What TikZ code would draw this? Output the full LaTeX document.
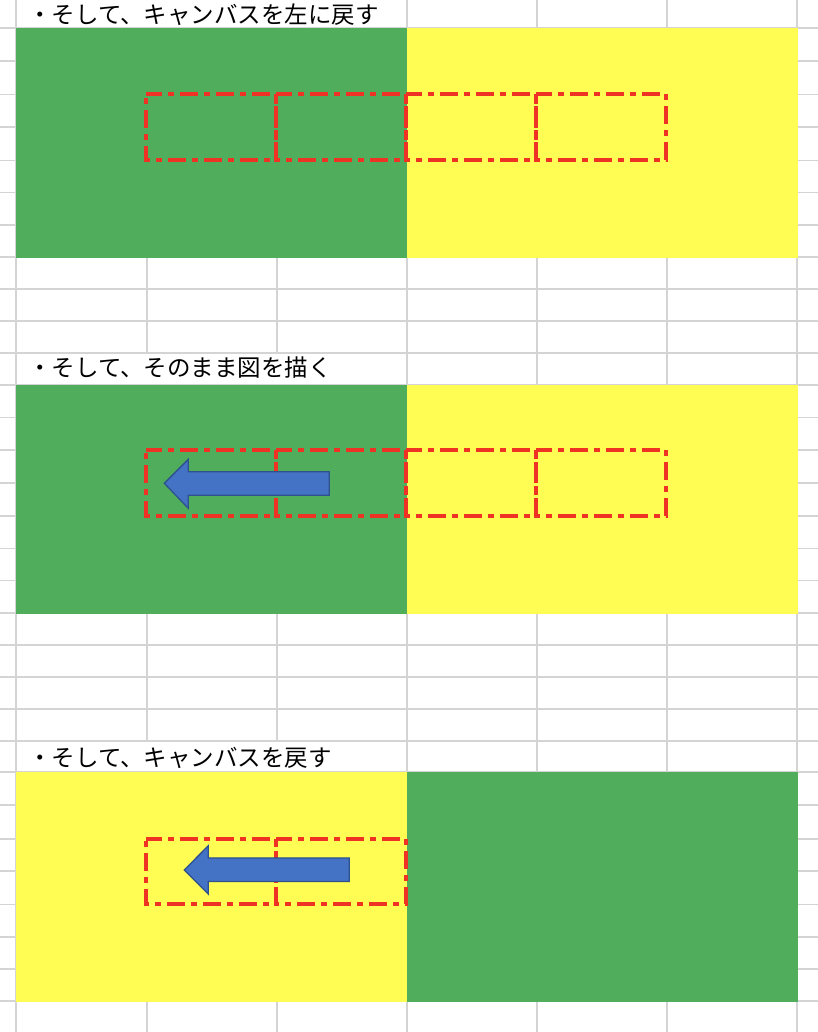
\documentclass[tikz,border=0pt]{standalone}
\usepackage{fontspec}
\newfontfamily\jpfont{Noto Sans CJK JP}
\definecolor{gridgray}{RGB}{212,212,212}
\definecolor{cellgreen}{RGB}{79,173,91}
\definecolor{cellyellow}{RGB}{255,253,84}
\definecolor{boxred}{RGB}{238,50,36}
\definecolor{arrowblue}{RGB}{68,114,196}
\definecolor{arrowedge}{RGB}{47,82,143}
\begin{document}
\begin{tikzpicture}[x=1bp,y=-1bp,
  gridline/.style={draw=gridgray,line width=1.3bp},
  whitecell/.style={fill=white,draw=none},
  greencell/.style={fill=cellgreen,draw=none},
  yellowcell/.style={fill=cellyellow,draw=none},
  redbox/.style={draw=boxred,line width=4.2bp,dash pattern=on 18bp off 6bp on 6bp off 6bp,dash phase=2bp},
  bluearrow/.style={fill=arrowblue,draw=arrowedge,line width=1.3bp,line join=miter},
  caption/.style={anchor=base west,inner sep=0pt,font=\jpfont\fontsize{23.5bp}{28bp}\selectfont}]
\useasboundingbox[fill=white] (0,0) rectangle (818,1032);
% grid
\foreach \y in {-4.5,28,61,94.5,127,160.5,192.5,225,257,289,321,353,385,417.5,450,483,516,548.5,580.5,613,645,677,709,741,772,805,839,871,904.5,937,969,1001}
  \draw[gridline] (0,\y) -- (818,\y);
\foreach \x in {16,147,277,407,537,667,797}
  \draw[gridline] (\x,0) -- (\x,1032);
% text rows (overflowing text hides inner gridlines)
\fill[whitecell] (16.7,-4) rectangle (406.3,27.3);
\fill[whitecell] (16.7,353.7) rectangle (406.3,384.3);
\fill[whitecell] (16.7,741.7) rectangle (406.3,771.3);
% block 1
\fill[greencell] (15.5,27.5) rectangle (407,257.5);
\fill[yellowcell] (407,27.5) rectangle (797.5,257.5);
% block 2
\fill[greencell] (15.5,384.5) rectangle (407,613.5);
\fill[yellowcell] (407,384.5) rectangle (797.5,613.5);
% block 3
\fill[yellowcell] (15.5,771.5) rectangle (407,1001.5);
\fill[greencell] (407,771.5) rectangle (797.5,1001.5);
% red boxes
\foreach \x in {146,276,406,536}
  \draw[redbox] (\x,94) -- (\x+130,94) -- (\x+130,159.8) -- (\x,159.8) -- cycle;
\foreach \x in {146,276,406,536}
  \draw[redbox] (\x,449.8) -- (\x+130,449.8) -- (\x+130,515.6) -- (\x,515.6) -- cycle;
\foreach \x in {146,276}
  \draw[redbox] (\x,838.6) -- (\x+130,838.6) -- (\x+130,903.8) -- (\x,903.8) -- cycle;
% arrows
\draw[bluearrow] (164.3,483.3) -- (188.3,459.3) -- (188.3,471.8) -- (329.3,471.8) -- (329.3,495.3) -- (188.3,495.3) -- (188.3,508.3) -- cycle;
\draw[bluearrow] (184.3,870) -- (208.3,845.7) -- (208.3,857.9) -- (349.3,857.9) -- (349.3,881.5) -- (208.3,881.5) -- (208.3,894) -- cycle;
% captions
\node[caption] (t1) at (28,23.5) {・そして、キャンバスを左に戻す};
\node[caption] (t2) at (28,376.5) {・そして、そのまま図を描く};
\node[caption] (t3) at (28,766.5) {・そして、キャンバスを戻す};
\end{tikzpicture}
\end{document}
